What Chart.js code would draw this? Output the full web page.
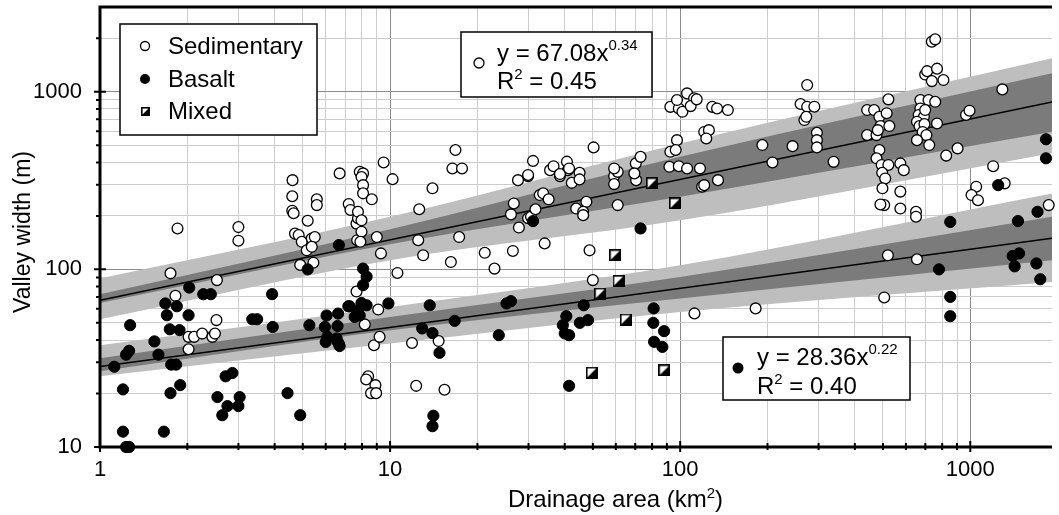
<!DOCTYPE html>
<html>
<head>
<meta charset="utf-8">
<title>Valley width vs drainage area</title>
<script src="https://cdn.jsdelivr.net/npm/chart.js@4.4.1/dist/chart.umd.min.js"></script>
<style>
  html, body { margin: 0; padding: 0; background: #fff; }
  canvas { display: block; }
</style>
</head>
<body>
<canvas id="valleyChart" width="1059" height="515"></canvas>
<script>
// ---- data: [drainage area km2, valley width m] ----
const sedimentary = [
  [1.85,170],[3.0,173],[3.0,145],[1.75,95],[1.82,71],[2.53,87],
  [2.02,41.7],[2.11,41.7],[2.25,43.5],[2.44,41.7],[2.49,43.5],[2.52,51.8],[2.02,35.5],
  [4.61,318],[4.6,258],[4.6,214],[4.65,207],[6.7,347],[5.59,248],[5.59,230],[5.2,188],
  [7.2,233],[7.3,216],[4.7,159],[4.84,156],[4.96,143],[5.37,149],[5.5,152],[5.16,128],[5.37,134],
  [4.9,106],[5.44,109],[7.66,181],[7.75,194],[7.7,146],[7.66,75],
  [7.86,354],[8.07,347],[9.5,400],[10.2,322],[7.97,331],[8.07,298],[8.07,268],[8.65,248],
  [14.0,286],[7.75,211],[7.97,189],[7.97,163],[7.9,143],[9.0,152],[9.3,123],
  [12.6,218],[12.5,146],[13.0,120],[17.3,152],[16.2,110],[21.2,124],[22.9,101],[10.6,95.5],
  [26.7,235],[26.1,204],[27.8,172],[26.5,127],[29.9,194],[30.6,198],[31.7,218],[34.1,140],
  [32.8,262],[33.7,268],[35.2,248],[27.6,318],[29.9,335],[35.6,362],[38.5,335],[41,362],[45,350],[42.3,307],[45,321],
  [47.5,240],[43.8,220],[46.3,211],[46.3,202],[48.7,128],[50,87],
  [59.2,335],[59.2,302],[60.9,354],[70.5,318],[60.9,230],[119,292],[112,56.5],
  [9.1,59.4],[8.18,49],[8.8,37.4],[9.2,41.7],[11.9,38.5],[14.7,39.5],
  [8.4,25],[8.27,24],[8.9,22.3],[8.6,20.1],[8.95,20.1],[12.3,22.1],[15.4,21],
  [16.8,470],[16.4,370],[17.7,370],[31.1,408],[29.9,340],[36.6,381],[38.5,344],[40.7,404],[41.4,370],
  [50.3,486],[59.2,370],[70.3,395],[73,430],[69.5,347],
  [92.5,459],[97.5,534],[96.5,470],[91.8,378],[98.9,381],[105.6,370],
  [92.5,822],[98.9,805],[101.8,771],[97.5,898],[105.6,979],[111.7,918],[108.7,830],[121,594],[129,822],
  [114,906],[134,805],[146,789],[125.6,608],[123,546],[117,370],[135,318],[121,298],
  [192,501],[208,400],[244,494],[274,1091],[260,853],[274,824],[290,824],[268,693],[272,723],
  [296,587],[296,534],[296,486],[338,403],[441,570],[475,570],[441,789],[466,789],
  [486,723],[490,641],[480,608],[522,906],[515,757],[526,641],[486,470],[475,422],[495,387],
  [522,387],[574,395],[590,362],[497,350],[509,325],[498,286],[574,274],
  [505,230],[490,232],[574,220],[650,211],[650,198],
  [673,898],[718,898],[757,878],[699,1250],[710,1306],[768,1349],[737,1148],[808,1164],[737,1914],[757,1972],
  [673,805],[664,740],[692,723],[699,789],[655,678],[668,641],[695,658],[768,663],
  [685,594],[706,570],[655,534],[722,501],[826,437],[904,480],[967,740],[994,782],[1290,1031],[1199,381],
  [1048,292],[1010,262],[1063,245],[1314,305],[1864,230],
  [520,120],[655,114],[505,69.5],[182,60.3]
];

const basalt = [
  [1.12,28.3],[1.2,21.1],[1.2,12.2],[1.23,10],[1.26,10],[1.23,33.1],[1.26,34.8],[1.27,48.5],[1.54,39.3],[1.59,33.1],
  [1.76,29.1],[1.83,29.1],[1.89,22.3],[1.75,20.1],[1.66,12.2],[2.54,19.1],[2.71,25],[2.86,26.1],[2.75,17],[2.64,15.1],[3.0,17],[3.03,19.1],
  [4.43,20.1],[4.9,15.1],[6.0,39],[6.6,39],[6.7,37],
  [6.66,137],[5.2,100],[2.03,79],[2.27,72.5],[2.41,72.5],[3.92,72.5],[1.68,64.3],[1.84,62],[1.70,55.2],[2.02,55.2],[1.74,46],[1.88,45.5],
  [3.35,52.4],[3.48,52.4],[3.94,47.4],[5.27,48.5],[6.04,55],[6.62,56.4],[5.96,47.4],[6.59,48],[7.18,62],[7.55,54],[6.08,41.7],[6.54,40.8],[6.66,38],
  [31.1,187],[73,170],[8.07,101],[8.3,91],[8.07,81.5],[7.25,62],[7.97,64.7],[8.3,62.8],[9.87,64.3],[7.86,55],[7.75,59],
  [13.7,62.8],[12.9,46.5],[14.0,43.8],[16.7,51.3],[25.2,64.3],[26.1,66.2],[23.7,42.6],[40.5,54.5],[39.4,48.5],[40,43.6],[41.4,42.6],
  [46.5,62.8],[48.1,51.8],[45.1,50],[81,60.3],[80.8,50],[88,44.9],[81.3,39.1],[86.8,36.6],
  [41.4,22.1],[14.1,15],[14.0,13.1],[14.8,33.9],
  [853,185],[780,100],[853,70],[853,54.5],[1460,187],[1705,211],[1400,119],[1473,123],[1422,104],[1690,108],[1743,88],
  [1824,540],[1824,422],[1248,298]
];

const mixed = [
  [80,305],[96,235],[59.7,120],[61.3,86],[53,73],[65,52.2],[49.6,26.2],[88.2,27]
];

// regression lines (end points) and confidence bands read at these areas
const lineX = [1, 1913];
const sedLine = [67.08, 875];
const basLine = [28.36, 149.5];

const bandX = [1, 10, 100, 1913];
const sedDarkHi  = [72.4, 168, 430, 1270];
const sedDarkLo  = [64.7, 138.6, 256, 595];
const sedLightHi = [88.9, 197.6, 512, 1542];
const sedLightLo = [52.4, 112.7, 189, 451];
const basDarkHi  = [31.6, 54, 90.7, 197.6];
const basDarkLo  = [26.7, 45.4, 68.6, 112.7];
const basLightHi = [37.4, 61.5, 105.6, 267.7];
const basLightLo = [25, 38.2, 57.6, 85];

// axes
const xRange = [1, 1913];
const yRange = [10, 3000];
const xTickValues = [1,2,3,4,5,6,7,8,9,10,20,30,40,50,60,70,80,90,100,200,300,400,500,600,700,800,900,1000];
const xTickLabels = [1, 10, 100, 1000];
const yTickValues = [10,20,30,40,50,60,70,80,90,100,200,300,400,500,600,700,800,900,1000,2000,3000];
const yTickLabels = [10, 100, 1000];

const FONT = '"Liberation Sans", Arial, Helvetica, sans-serif';
Chart.defaults.font.family = FONT;
Chart.defaults.color = '#000';

function toXY(list) {
  return list.map(([x, y]) => ({ x, y }));
}

function pairs(xs, ys) {
  return xs.map((x, i) => ({ x, y: ys[i] }));
}

// half white / half black square for the "Mixed" class
function mixedMarker(size) {
  const c = document.createElement('canvas');
  c.width = size; c.height = size;
  const g = c.getContext('2d');
  g.fillStyle = '#fff';
  g.fillRect(0, 0, size, size);
  g.fillStyle = '#000';
  g.beginPath();
  g.moveTo(size, 0); g.lineTo(size, size); g.lineTo(0, size);
  g.closePath();
  g.fill();
  g.strokeStyle = '#000';
  g.lineWidth = 1.6;
  g.strokeRect(0.8, 0.8, size - 1.6, size - 1.6);
  return c;
}

const mixedIcon = mixedMarker(12);
const mixedIconSmall = mixedMarker(9);

function band(hi, lo, color, order) {
  const common = {
    type: 'line', showLine: true, pointRadius: 0, borderWidth: 0,
    borderColor: 'rgba(0,0,0,0)', cubicInterpolationMode: 'monotone', order
  };
  return [
    Object.assign({}, common, { data: pairs(bandX, hi), fill: '+1', backgroundColor: color }),
    Object.assign({}, common, { data: pairs(bandX, lo), fill: false })
  ];
}

function regLine(ys) {
  return {
    type: 'line', data: pairs(lineX, ys), borderColor: '#000', borderWidth: 1.5,
    pointRadius: 0, fill: false, order: 2
  };
}

function drawParts(ctx, parts, x, y) {
  let cx = x;
  parts.forEach(([text, size, rise]) => {
    ctx.font = `${size}px ${FONT}`;
    ctx.fillText(text, cx, y - rise);
    cx += ctx.measureText(text).width;
  });
}

const framePlugin = {
  id: 'frameAndNotes',
  afterDraw(chart) {
    const { ctx, chartArea: a } = chart;
    const xs = chart.scales.x, ys = chart.scales.y;
    ctx.save();

    // frame
    ctx.strokeStyle = '#000';
    ctx.lineWidth = 3;
    ctx.beginPath();
    ctx.moveTo(a.left - 1.5, a.top); ctx.lineTo(a.right, a.top);
    ctx.moveTo(a.left, a.top); ctx.lineTo(a.left, a.bottom + 1.5);
    ctx.moveTo(a.left - 1.5, a.bottom); ctx.lineTo(a.right, a.bottom);
    ctx.stroke();

    // tick marks
    ctx.lineWidth = 2;
    ctx.beginPath();
    yTickValues.forEach(v => {
      const py = ys.getPixelForValue(v);
      if (yTickLabels.includes(v)) { ctx.moveTo(a.left - 6, py); ctx.lineTo(a.left + 6, py); }
      else if (v < yRange[1]) { ctx.moveTo(a.left - 4, py); ctx.lineTo(a.left, py); }
    });
    xTickValues.forEach(v => {
      const px = xs.getPixelForValue(v);
      if (xTickLabels.includes(v)) { ctx.moveTo(px, a.bottom - 6); ctx.lineTo(px, a.bottom + 5); }
      else { ctx.moveTo(px, a.bottom - 4); ctx.lineTo(px, a.bottom + 3); }
    });
    ctx.stroke();

    ctx.fillStyle = '#000';
    ctx.textBaseline = 'alphabetic';
    ctx.textAlign = 'left';

    // axis titles
    drawParts(ctx, [['Drainage area (km', 24, 0], ['2', 15, 9], [')', 24, 0]], 508, 507);
    ctx.save();
    ctx.translate(30, 232);
    ctx.rotate(-Math.PI / 2);
    ctx.textAlign = 'center';
    ctx.font = `23px ${FONT}`;
    ctx.fillText('Valley width (m)', 0, 0);
    ctx.restore();

    // legend box
    ctx.lineWidth = 1.5;
    ctx.strokeStyle = '#000';
    ctx.fillStyle = '#fff';
    ctx.fillRect(120, 24, 197, 111);
    ctx.strokeRect(120, 24, 197, 111);
    ctx.lineWidth = 1.3;
    ctx.beginPath(); ctx.arc(145, 46, 4.5, 0, Math.PI * 2); ctx.fill(); ctx.stroke();
    ctx.fillStyle = '#000';
    ctx.beginPath(); ctx.arc(145, 79, 5, 0, Math.PI * 2); ctx.fill();
    ctx.drawImage(mixedIconSmall, 141, 107);
    drawParts(ctx, [['Sedimentary', 24, 0]], 168, 54);
    drawParts(ctx, [['Basalt', 24, 0]], 168, 87);
    drawParts(ctx, [['Mixed', 24, 0]], 168, 119);

    // equation boxes
    ctx.lineWidth = 1.5;
    ctx.fillStyle = '#fff';
    ctx.fillRect(461, 32, 191, 65);
    ctx.strokeRect(461, 32, 191, 65);
    ctx.fillRect(723, 337, 187, 63);
    ctx.strokeRect(723, 337, 187, 63);

    ctx.lineWidth = 1.3;
    ctx.beginPath(); ctx.arc(479, 63, 5, 0, Math.PI * 2); ctx.fill(); ctx.stroke();
    ctx.fillStyle = '#000';
    ctx.beginPath(); ctx.arc(738, 368, 5.5, 0, Math.PI * 2); ctx.fill();

    drawParts(ctx, [['y = 67.08x', 24, 0], ['0.34', 15, 11]], 497, 61);
    drawParts(ctx, [['R', 24, 0], ['2', 15, 10], [' = 0.45', 24, 0]], 497, 89);
    drawParts(ctx, [['y = 28.36x', 24, 0], ['0.22', 15, 11]], 757, 365);
    drawParts(ctx, [['R', 24, 0], ['2', 15, 10], [' = 0.40', 24, 0]], 757, 394);

    ctx.restore();
  }
};

function logTicks(values, labels) {
  return {
    afterBuildTicks: scale => { scale.ticks = values.filter(v => v >= scale.min && v <= scale.max).map(v => ({ value: v })); },
    labelFor: v => (labels.includes(v) ? String(v) : '')
  };
}

const xt = logTicks(xTickValues, xTickLabels);
const yt = logTicks(yTickValues, yTickLabels);

const ctx = document.getElementById('valleyChart').getContext('2d');

new Chart(ctx, {
  type: 'scatter',
  data: {
    datasets: [
      {
        label: 'Mixed', data: toXY(mixed), pointStyle: mixedIcon, pointRadius: 6,
        clip: false, order: 0
      },
      {
        label: 'Basalt', data: toXY(basalt), pointStyle: 'circle', pointRadius: 5.6,
        backgroundColor: '#000', borderColor: '#000', borderWidth: 1, clip: false, order: 1
      },
      {
        label: 'Sedimentary', data: toXY(sedimentary), pointStyle: 'circle', pointRadius: 5.4,
        backgroundColor: '#fff', borderColor: '#000', borderWidth: 1.3, clip: false, order: 1
      },
      regLine(sedLine),
      regLine(basLine),
      ...band(sedDarkHi, sedDarkLo, '#7b7b7b', 3),
      ...band(basDarkHi, basDarkLo, '#7b7b7b', 3),
      ...band(sedLightHi, sedLightLo, '#bebebe', 4),
      ...band(basLightHi, basLightLo, '#bebebe', 4)
    ]
  },
  options: {
    responsive: false,
    animation: false,
    devicePixelRatio: 1,
    layout: { padding: { top: 7, right: 0, left: 0, bottom: 0 } },
    plugins: { legend: { display: false }, tooltip: { enabled: false } },
    scales: {
      x: {
        type: 'logarithmic', min: xRange[0], max: xRange[1],
        afterBuildTicks: xt.afterBuildTicks,
        afterFit: s => { s.height = 68; s.paddingLeft = 0; s.paddingRight = 0; },
        border: { display: false },
        grid: {
          drawTicks: false,
          color: c => (xTickLabels.includes(c.tick.value) ? '#8c8c8c' : '#cdcdcd'),
          lineWidth: 1
        },
        ticks: {
          autoSkip: false, maxRotation: 0, padding: 10,
          font: { size: 22 },
          callback: v => xt.labelFor(v)
        }
      },
      y: {
        type: 'logarithmic', min: yRange[0], max: yRange[1],
        afterBuildTicks: yt.afterBuildTicks,
        afterFit: s => { s.width = 100; s.paddingTop = 0; s.paddingBottom = 0; },
        border: { display: false },
        grid: {
          drawTicks: false,
          color: c => (yTickLabels.includes(c.tick.value) ? '#8c8c8c' : '#cdcdcd'),
          lineWidth: 1
        },
        ticks: {
          autoSkip: false, padding: 18,
          font: { size: 22 },
          callback: v => yt.labelFor(v)
        }
      }
    }
  },
  plugins: [framePlugin]
});
</script>
</body>
</html>
